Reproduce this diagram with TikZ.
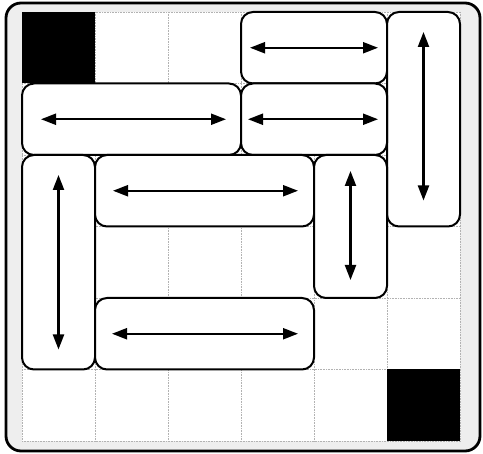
\documentclass[tikz,border=0pt]{standalone}
\usetikzlibrary{arrows.meta}
\begin{document}
\begin{tikzpicture}[x=1pt,y=-1pt,
  blk/.style={draw,line width=2pt,rounded corners=12pt,fill=white,inner sep=0pt,outer sep=0pt},
  tip/.tip={Triangle[length=15pt,width=11pt]},
  arr/.style={line width=2.2pt,tip-tip},
  gridln/.style={gray!60,line width=0.6pt,densely dotted}]
\useasboundingbox (0,0) rectangle (483,454);
% frame
\draw[line width=2.8pt,rounded corners=15pt,fill=gray!13] (6,3) rectangle (480,451);
\fill[white] (22,12) rectangle (460,441);
% grid
\foreach \x in {22,95,168,241,314,387,460} \draw[gridln] (\x,12) -- (\x,441);
\foreach \y in {12,83.5,155,226.5,298,369.5,441} \draw[gridln] (22,\y) -- (460,\y);
% black cells
\fill[black] (22,12) rectangle (95,83.5);
\fill[black] (387,369.5) rectangle (460,441);
% blocks
\node[blk,minimum width=146pt,minimum height=71.5pt] (b1) at (314,47.75) {};
\node[blk,minimum width=73pt,minimum height=214.5pt] (b2) at (423.5,119.25) {};
\node[blk,minimum width=219pt,minimum height=71.5pt] (b3) at (131.5,119.25) {};
\node[blk,minimum width=146pt,minimum height=71.5pt] (b4) at (314,119.25) {};
\node[blk,minimum width=73pt,minimum height=214.5pt] (b5) at (58.5,262.25) {};
\node[blk,minimum width=219pt,minimum height=71.5pt] (b6) at (204.5,190.75) {};
\node[blk,minimum width=73pt,minimum height=143pt] (b7) at (350.5,226.5) {};
\node[blk,minimum width=219pt,minimum height=71.5pt] (b8) at (204.5,333.75) {};
% arrows
\draw[arr] ([xshift=9pt]b1.west) -- ([xshift=-9pt]b1.east);
\draw[arr] ([yshift=-20pt]b2.north) -- ([yshift=26pt]b2.south);
\draw[arr] ([xshift=19pt]b3.west) -- ([xshift=-15pt]b3.east);
\draw[arr] ([xshift=7pt]b4.west) -- ([xshift=-9pt]b4.east);
\draw[arr] ([yshift=-20pt]b5.north) -- ([yshift=20pt]b5.south);
\draw[arr] ([xshift=18pt]b6.west) -- ([xshift=-16pt]b6.east);
\draw[arr] ([yshift=-16pt]b7.north) -- ([yshift=18pt]b7.south);
\draw[arr] ([xshift=17pt]b8.west) -- ([xshift=-16pt]b8.east);
\end{tikzpicture}
\end{document}
